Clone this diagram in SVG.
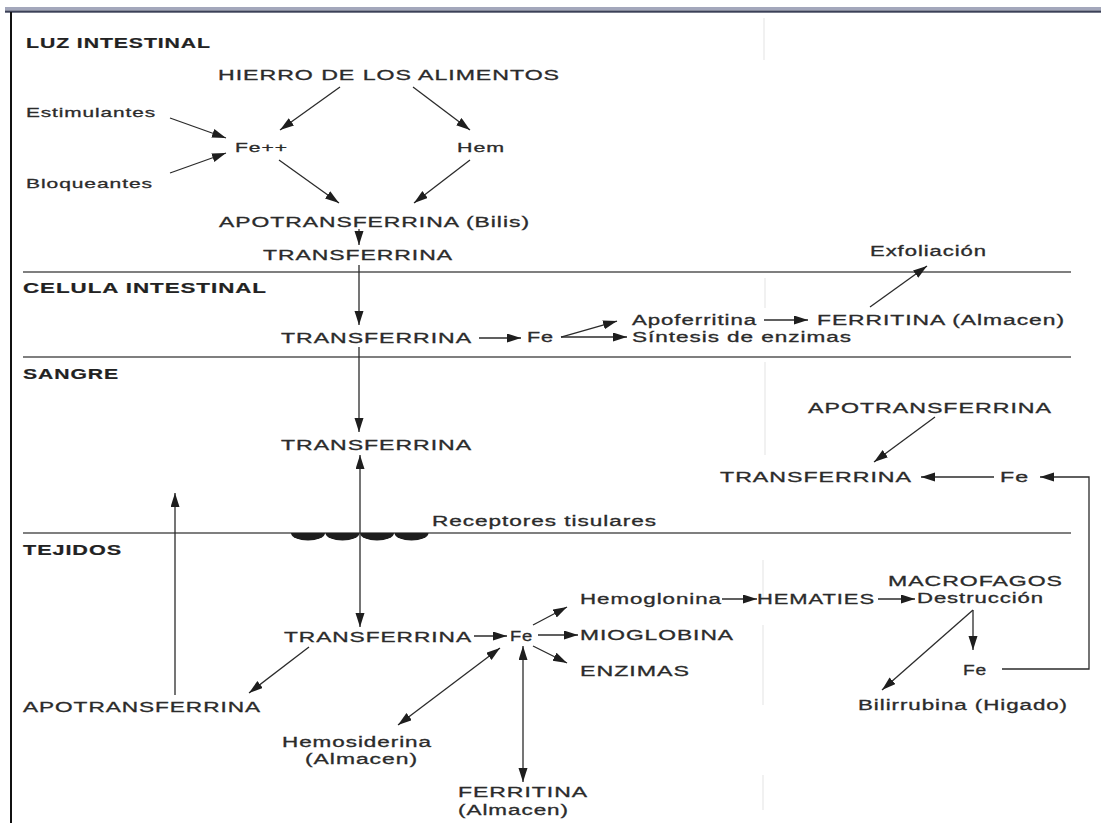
<svg xmlns="http://www.w3.org/2000/svg" width="1101" height="823" viewBox="0 0 1101 823">
<style>
.t{font-family:"Liberation Sans",Arial,Helvetica,sans-serif;font-size:14px;fill:#2b2b2b;stroke:#2b2b2b;stroke-width:0.3;letter-spacing:0.6px}
.s{font-size:13.5px}
.b{font-weight:bold;fill:#222;stroke:#222;stroke-width:0.2}
.c{stroke:#2b2b2b;stroke-width:1.3;fill:none}
.a{marker-end:url(#ah)}
.d{marker-start:url(#ah);marker-end:url(#ah)}
.sep{stroke:#555;stroke-width:1.3}
</style>
<defs>
<marker id="ah" markerUnits="userSpaceOnUse" markerWidth="16" markerHeight="10" refX="14" refY="4.5" orient="auto-start-reverse"><path d="M0,0 L14,4.5 L0,9 Z" fill="#1e1e1e"/></marker>
</defs>
<rect width="1101" height="823" fill="#ffffff"/>
<g id="frame">
<rect x="5" y="7" width="1096" height="3.5" fill="#a3a7bb"/>
<rect x="5" y="10.5" width="1096" height="2.2" fill="#3b4057"/>
<line x1="11" y1="12" x2="11" y2="823" stroke="#111" stroke-width="2"/>
<g stroke="#ececec" stroke-width="1.5">
<line x1="764" y1="18" x2="764" y2="60"/>
<line x1="765" y1="278" x2="765" y2="308"/>
<line x1="765" y1="362" x2="765" y2="455"/>
<line x1="763" y1="560" x2="763" y2="600"/>
<line x1="763" y1="625" x2="763" y2="705"/>
<line x1="763" y1="775" x2="763" y2="810"/>
</g>
</g>
<g id="zones">
<line class="sep" x1="23" y1="272" x2="1071" y2="272"/>
<line class="sep" x1="23" y1="357" x2="1071" y2="357"/>
<line class="sep" x1="23" y1="533" x2="1071" y2="533"/>
<text id="luz" class="t b" x="26" y="48" textLength="185" lengthAdjust="spacingAndGlyphs">LUZ INTESTINAL</text>
<text id="celula" class="t b" x="23" y="293" textLength="244" lengthAdjust="spacingAndGlyphs">CELULA INTESTINAL</text>
<text id="sangre" class="t b" x="23" y="379" textLength="96" lengthAdjust="spacingAndGlyphs">SANGRE</text>
<text id="tejidos" class="t b" x="23" y="555" textLength="99" lengthAdjust="spacingAndGlyphs">TEJIDOS</text>
</g>
<g id="receptores">
<g fill="#1e1e1e">
<path d="M291,533 a17,7.5 0 0 0 34,0 z"/>
<path d="M325.5,533 a17,7.5 0 0 0 34,0 z"/>
<path d="M360,533 a17,7.5 0 0 0 34,0 z"/>
<path d="M394.5,533 a17,7.5 0 0 0 34,0 z"/>
</g>
<text class="t" x="432" y="526" textLength="225" lengthAdjust="spacingAndGlyphs">Receptores tisulares</text>
</g>
<g id="n-hierro"><text class="t" x="218" y="80" textLength="342" lengthAdjust="spacingAndGlyphs">HIERRO DE LOS ALIMENTOS</text></g>
<g id="n-estimulantes"><text class="t s" x="26" y="117" textLength="130" lengthAdjust="spacingAndGlyphs">Estimulantes</text></g>
<g id="n-bloqueantes"><text class="t s" x="26" y="188" textLength="127" lengthAdjust="spacingAndGlyphs">Bloqueantes</text></g>
<g id="n-fepp"><text class="t s" x="235" y="152" textLength="53" lengthAdjust="spacingAndGlyphs">Fe++</text></g>
<g id="n-hem"><text class="t s" x="457" y="152" textLength="48" lengthAdjust="spacingAndGlyphs">Hem</text></g>
<g id="n-apobilis"><text class="t" x="219" y="227" textLength="311" lengthAdjust="spacingAndGlyphs">APOTRANSFERRINA (Bilis)</text></g>
<g id="n-transf-luz"><text class="t" x="263" y="260" textLength="190" lengthAdjust="spacingAndGlyphs">TRANSFERRINA</text></g>
<g id="n-exfoliacion"><text class="t" x="870" y="256" textLength="117" lengthAdjust="spacingAndGlyphs">Exfoliación</text></g>
<g id="n-transf-cel"><text class="t" x="281" y="343" textLength="191" lengthAdjust="spacingAndGlyphs">TRANSFERRINA</text></g>
<g id="n-fe-cel"><text class="t" x="527" y="342" textLength="27" lengthAdjust="spacingAndGlyphs">Fe</text></g>
<g id="n-apoferritina"><text class="t" x="632" y="325" textLength="125" lengthAdjust="spacingAndGlyphs">Apoferritina</text></g>
<g id="n-ferritina-cel"><text class="t" x="817" y="325" textLength="248" lengthAdjust="spacingAndGlyphs">FERRITINA (Almacen)</text></g>
<g id="n-sintesis"><text class="t" x="632" y="342" textLength="220" lengthAdjust="spacingAndGlyphs">Síntesis de enzimas</text></g>
<g id="n-transf-sangre"><text class="t" x="281" y="450" textLength="191" lengthAdjust="spacingAndGlyphs">TRANSFERRINA</text></g>
<g id="n-apo-right"><text class="t" x="808" y="413" textLength="244" lengthAdjust="spacingAndGlyphs">APOTRANSFERRINA</text></g>
<g id="n-transf-right"><text class="t" x="720" y="482" textLength="192" lengthAdjust="spacingAndGlyphs">TRANSFERRINA</text></g>
<g id="n-fe-right"><text class="t" x="1000" y="482" textLength="29" lengthAdjust="spacingAndGlyphs">Fe</text></g>
<g id="n-transf-tej"><text class="t" x="284" y="642" textLength="188" lengthAdjust="spacingAndGlyphs">TRANSFERRINA</text></g>
<g id="n-fe-tej"><text class="t" x="510" y="641" textLength="23" lengthAdjust="spacingAndGlyphs">Fe</text></g>
<g id="n-hemoglonina"><text class="t" x="580" y="604" textLength="142" lengthAdjust="spacingAndGlyphs">Hemoglonina</text></g>
<g id="n-hematies"><text class="t" x="757" y="604" textLength="118" lengthAdjust="spacingAndGlyphs">HEMATIES</text></g>
<g id="n-macrofagos">
<text class="t" x="888" y="586" textLength="175" lengthAdjust="spacingAndGlyphs">MACROFAGOS</text>
<text class="t" x="917" y="603" textLength="127" lengthAdjust="spacingAndGlyphs">Destrucción</text>
</g>
<g id="n-mioglobina"><text class="t" x="580" y="640" textLength="154" lengthAdjust="spacingAndGlyphs">MIOGLOBINA</text></g>
<g id="n-enzimas"><text class="t" x="580" y="676" textLength="110" lengthAdjust="spacingAndGlyphs">ENZIMAS</text></g>
<g id="n-fe-macro"><text class="t" x="963" y="675" textLength="24" lengthAdjust="spacingAndGlyphs">Fe</text></g>
<g id="n-bilirrubina"><text class="t" x="858" y="710" textLength="210" lengthAdjust="spacingAndGlyphs">Bilirrubina (Higado)</text></g>
<g id="n-apo-left"><text class="t" x="23" y="712" textLength="238" lengthAdjust="spacingAndGlyphs">APOTRANSFERRINA</text></g>
<g id="n-hemosiderina">
<text class="t" x="282" y="747" textLength="150" lengthAdjust="spacingAndGlyphs">Hemosiderina</text>
<text class="t" x="305" y="764" textLength="113" lengthAdjust="spacingAndGlyphs">(Almacen)</text>
</g>
<g id="n-ferritina-tej">
<text class="t" x="458" y="797" textLength="130" lengthAdjust="spacingAndGlyphs">FERRITINA</text>
<text class="t" x="458" y="815" textLength="111" lengthAdjust="spacingAndGlyphs">(Almacen)</text>
</g>
<g id="connectors">
<line class="c a" x1="340" y1="87" x2="280" y2="130"/>
<line class="c a" x1="413" y1="87" x2="470" y2="130"/>
<line class="c a" x1="170" y1="118" x2="226" y2="138"/>
<line class="c a" x1="170" y1="173" x2="226" y2="153"/>
<line class="c a" x1="279" y1="160" x2="339" y2="203"/>
<line class="c a" x1="470" y1="160" x2="414" y2="203"/>
<line class="c a" x1="359" y1="229" x2="359" y2="245"/>
<line class="c a" x1="359" y1="265" x2="359" y2="325"/>
<line class="c a" x1="479" y1="338" x2="521" y2="338"/>
<line class="c a" x1="561" y1="337" x2="617" y2="321"/>
<line class="c a" x1="561" y1="337" x2="627" y2="337"/>
<line class="c a" x1="764" y1="320" x2="808" y2="320"/>
<line class="c a" x1="870" y1="307" x2="927" y2="266"/>
<line class="c a" x1="359" y1="347" x2="359" y2="432"/>
<line class="c d" x1="360" y1="455" x2="360" y2="627"/>
<line class="c a" x1="175" y1="695" x2="175" y2="493"/>
<line class="c a" x1="935" y1="417" x2="874" y2="462"/>
<line class="c a" x1="994" y1="477" x2="921" y2="477"/>
<polyline class="c a" points="1002,669 1089,669 1089,477 1040,477"/>
<line class="c a" x1="474" y1="636" x2="507" y2="636"/>
<line class="c a" x1="309" y1="647" x2="249" y2="693"/>
<line class="c d" x1="500" y1="648" x2="398" y2="725"/>
<line class="c d" x1="523" y1="646" x2="523" y2="782"/>
<line class="c a" x1="533" y1="625" x2="567" y2="607"/>
<line class="c a" x1="538" y1="635" x2="578" y2="635"/>
<line class="c a" x1="533" y1="646" x2="567" y2="663"/>
<line class="c a" x1="722" y1="599" x2="757" y2="599"/>
<line class="c a" x1="878" y1="599" x2="915" y2="599"/>
<line class="c a" x1="973" y1="610" x2="973" y2="650"/>
<line class="c a" x1="973" y1="610" x2="882" y2="690"/>
</g>
</svg>
